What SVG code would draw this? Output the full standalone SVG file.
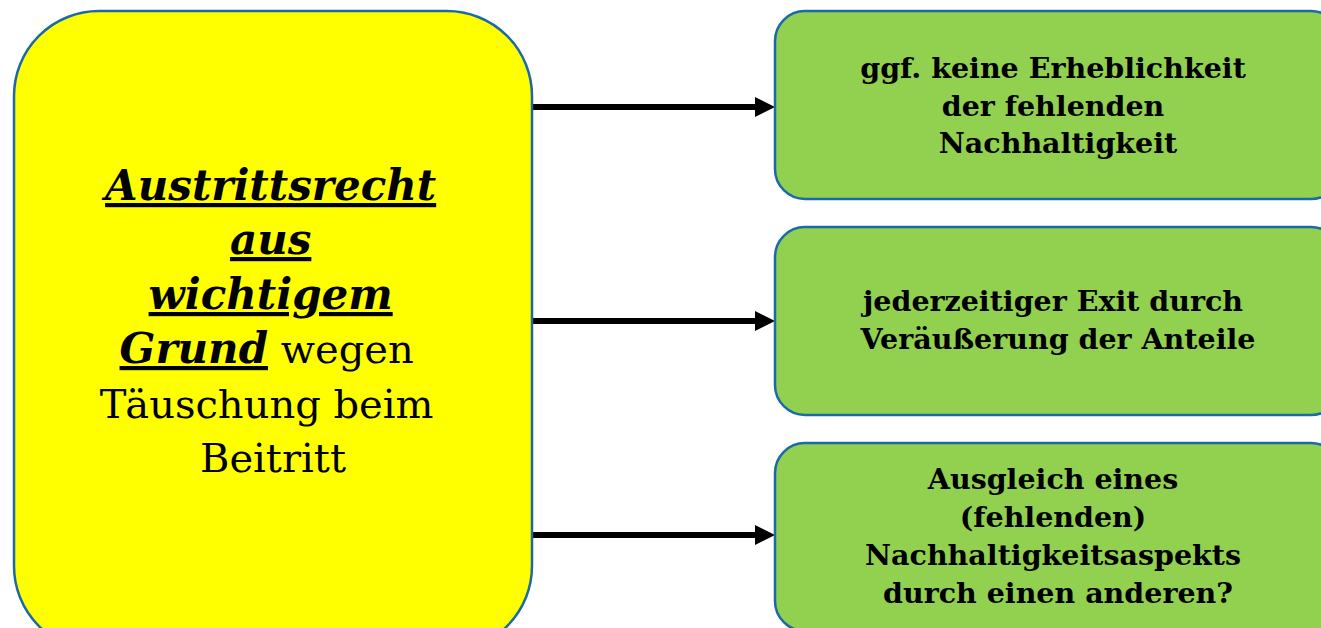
<svg xmlns="http://www.w3.org/2000/svg" width="1321" height="628" viewBox="0 0 1321 628">
<style>
.box{stroke:#1a6aa8;stroke-width:2.5}
.yellow{fill:#ffff00}
.green{fill:#92d050}
.t{font-family:"DejaVu Serif","Liberation Serif",serif;fill:#000;text-anchor:middle}
.gt{font-size:28.5px;font-weight:bold}
.lt{font-size:40px}
.em{font-size:42px;font-weight:bold;font-style:italic;text-decoration:underline}
.conn{stroke:#000;stroke-width:6;fill:none}
</style>
<defs>
<marker id="ah" markerUnits="userSpaceOnUse" markerWidth="20" markerHeight="20" refX="2" refY="10" orient="auto">
<path d="M0,0 L20,10 L0,20 Z" fill="#000"/>
</marker>
</defs>
<rect width="1321" height="628" fill="#fff"/>
<g id="connectors">
<line class="conn" x1="532" y1="107" x2="757" y2="107" marker-end="url(#ah)"/>
<line class="conn" x1="532" y1="321" x2="757" y2="321" marker-end="url(#ah)"/>
<line class="conn" x1="532" y1="535" x2="757" y2="535" marker-end="url(#ah)"/>
</g>
<g id="main">
<rect class="box yellow" x="14" y="11" width="518" height="640" rx="85" ry="85"/>
<text class="t lt" x="273">
<tspan x="277" y="200" class="em">Austrittsrecht</tspan>
<tspan x="277" y="254" class="em">aus</tspan>
<tspan x="277" y="309" class="em">wichtigem</tspan>
<tspan x="273" y="363"><tspan class="em">Grund</tspan> wegen</tspan>
<tspan x="273" y="418">Täuschung beim</tspan>
<tspan x="273" y="472">Beitritt</tspan>
</text>
</g>
<g id="n1">
<rect class="box green" x="775" y="11" width="566" height="188" rx="30" ry="30"/>
<text class="t gt">
<tspan x="1058" y="78">ggf. keine Erheblichkeit</tspan>
<tspan x="1058" y="116">der fehlenden</tspan>
<tspan x="1058" y="153">Nachhaltigkeit</tspan>
</text>
</g>
<g id="n2">
<rect class="box green" x="775" y="227" width="566" height="188" rx="30" ry="30"/>
<text class="t gt">
<tspan x="1058" y="311">jederzeitiger Exit durch</tspan>
<tspan x="1058" y="349">Veräußerung der Anteile</tspan>
</text>
</g>
<g id="n3">
<rect class="box green" x="775" y="443" width="566" height="188" rx="30" ry="30"/>
<text class="t gt">
<tspan x="1058" y="489">Ausgleich eines</tspan>
<tspan x="1058" y="527">(fehlenden)</tspan>
<tspan x="1058" y="565">Nachhaltigkeitsaspekts</tspan>
<tspan x="1058" y="603">durch einen anderen?</tspan>
</text>
</g>
</svg>
